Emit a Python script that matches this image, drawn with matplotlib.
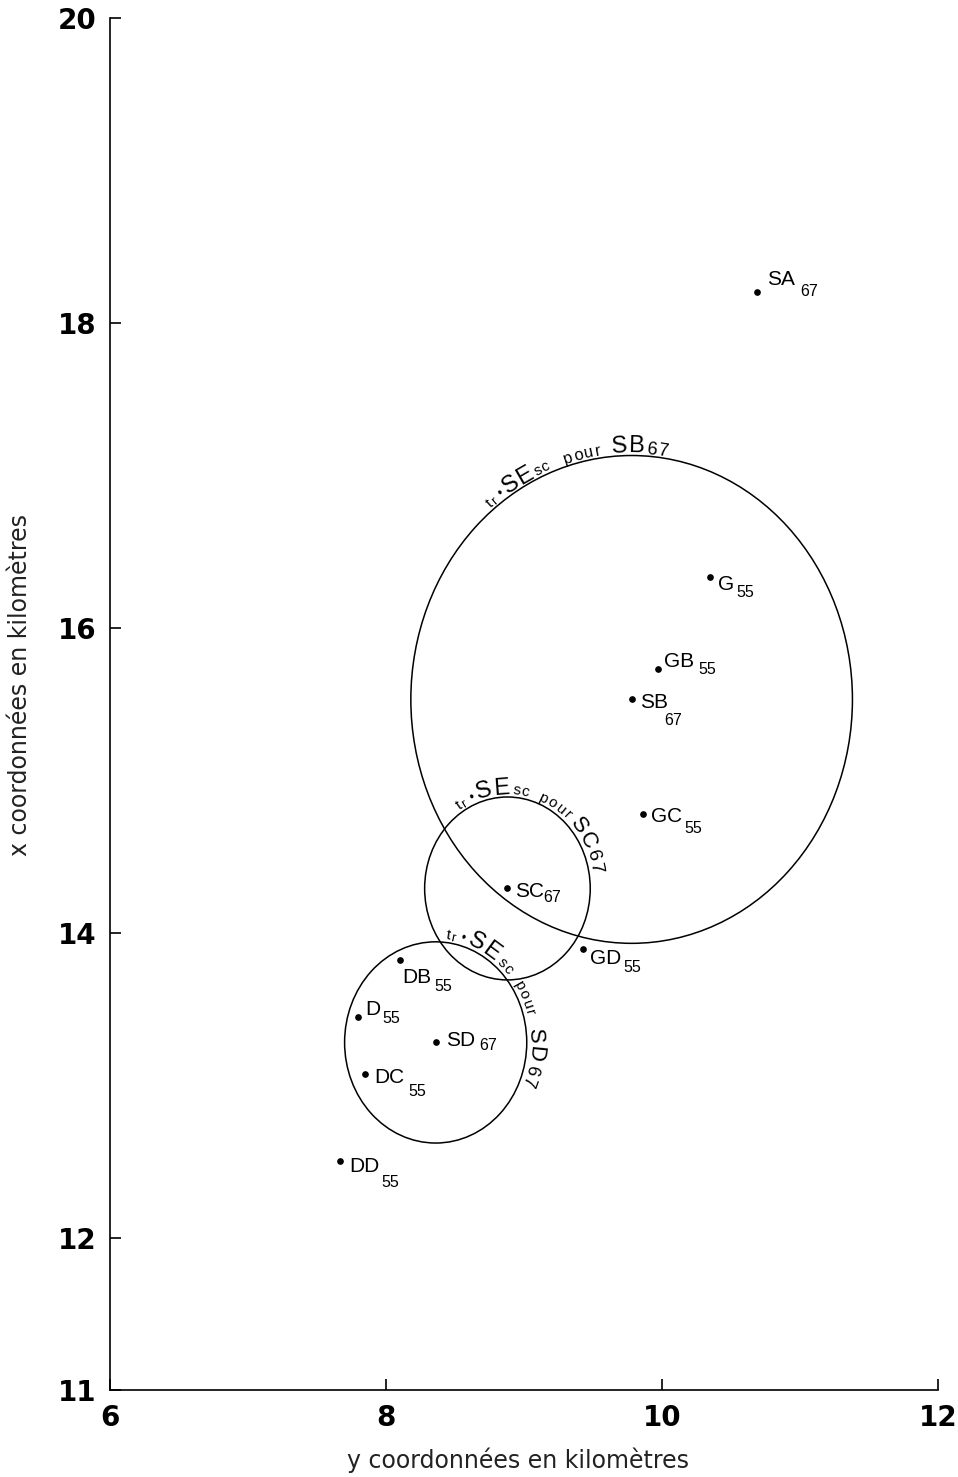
import numpy as np
import matplotlib
matplotlib.use("Agg")
import matplotlib.pyplot as plt
from matplotlib.patches import Circle

# Station coordinates (y, x) in kilometres
names = ["SA", "G", "GB", "SB", "GC", "SC", "GD", "DB", "D", "SD", "DC", "DD"]
subs = ["67", "55", "55", "67", "55", "67", "55", "55", "55", "67", "55", "55"]
y_km = [10.69, 10.35, 9.97, 9.78, 9.86, 8.88, 9.43, 8.10, 7.80, 8.36, 7.85, 7.67]
x_km = [18.20, 16.33, 15.73, 15.53, 14.78, 14.29, 13.89, 13.82, 13.45, 13.28, 13.07, 12.50]

# Uncertainty circles: centre station and radius (km)
circle_station = ["SB", "SC", "SD"]
circle_radius = [1.60, 0.60, 0.66]

x_ticks = [6, 8, 10, 12]
y_ticks = [11, 12, 14, 16, 18, 20]

# Label placement (pixels): main text left/baseline offset, subscript gap/baseline offset
main_off = [(10, 7), (8, -13), (6, 2), (8, -9), (8, -8), (8, -9), (7, -15),
            (2, -23), (7, 2), (10, -4), (9, -9), (9, -11)]
sub_off = [(5, -4), (2, -20), (4, -5), (-3, -26), (3, -19), (-1, -14), (2, -23),
           (3, -31), (2, -6), (4, -8), (4, -22), (2, -26)]

LABEL_FONT = "Liberation Sans"

fig = plt.figure(figsize=(9.58, 14.77), dpi=100)
ax = fig.add_axes([110 / 958, 87 / 1477, 828 / 958, 1372 / 1477])
ax.set_xlim(6, 12)
ax.set_ylim(11, 20)

for side in ("top", "right"):
    ax.spines[side].set_visible(False)
for side in ("left", "bottom"):
    ax.spines[side].set_linewidth(1.2)

ax.set_xticks(x_ticks)
ax.set_yticks(y_ticks)
ax.set_xticklabels([str(v) for v in x_ticks])
ax.set_yticklabels([str(v) for v in y_ticks])
ax.tick_params(direction="in", length=8, width=1.2, pad=10)
for lab in ax.get_xticklabels() + ax.get_yticklabels():
    lab.set_fontfamily("DejaVu Sans")
    lab.set_fontweight("bold")
    lab.set_fontsize(20)

# Points and their labels
ax.plot(y_km, x_km, "o", color="black", markersize=3.8, clip_on=False)
for i, (nm, sb) in enumerate(zip(names, subs)):
    mt = ax.annotate(nm, xy=(y_km[i], x_km[i]), xytext=main_off[i],
                     textcoords="offset pixels", ha="left", va="baseline",
                     fontsize=15, family=LABEL_FONT)
    ax.annotate(sb, xy=(1, x_km[i]), xycoords=(mt, "data"),
                xytext=sub_off[i], textcoords="offset pixels",
                ha="left", va="baseline", fontsize=11.5, family=LABEL_FONT)

# Circles
centres = {}
for st, r in zip(circle_station, circle_radius):
    k = names.index(st)
    c = (y_km[k], x_km[k])
    centres[st] = (c, r)
    ax.add_patch(Circle(c, r, fill=False, edgecolor="black", linewidth=1.1))

fig.canvas.draw()
renderer = fig.canvas.get_renderer()


def char_width(ch, size):
    t = ax.text(0, 0, ch, fontsize=size, family=LABEL_FONT)
    w = t.get_window_extent(renderer).width
    t.remove()
    return w


def arc_text(centre, radius, pieces, t_start, gap):
    """Write text clockwise along the outside of a circle given in data units.

    pieces: (text, fontsize, radial lift px, letter tracking px, space after px)
    """
    cx, cy = ax.transData.transform(centre)
    rx = ax.transData.transform((centre[0] + radius, centre[1]))[0] - cx
    ry = ax.transData.transform((centre[0], centre[1] + radius))[1] - cy
    inv = ax.transData.inverted()
    t = np.radians(t_start)
    for text, size, lift, track, after in pieces:
        off = gap + lift
        ex, ey = rx + off, ry + off
        for ch in text:
            w = char_width(ch, size)
            speed = np.hypot(ex * np.sin(t), ey * np.cos(t))
            t -= (w / 2) / speed
            px = cx + ex * np.cos(t)
            py = cy + ey * np.sin(t)
            rot = np.degrees(np.arctan2(-ey * np.cos(t), ex * np.sin(t)))
            dx, dy = inv.transform((px, py))
            ax.text(dx, dy, ch, fontsize=size, family=LABEL_FONT,
                    rotation=rot, rotation_mode="anchor",
                    ha="center", va="baseline", clip_on=False)
            t -= (w / 2 + track) / speed
        speed = np.hypot(ex * np.sin(t), ey * np.cos(t))
        t -= after / speed


c, r = centres["SB"]
arc_text(c, r, [("t", 11, 0, 1, 0), ("r", 9, -1, 0, 5), ("•", 9, 1, 0, 3),
                ("SE", 17, 0, 0.5, 1), ("sc", 11, 0, 1, 14), ("pour", 12, 0, 1.5, 9),
                ("SB", 17, 0, 0.5, 2), ("67", 13, -1, 1, 0)], 129, 3)

c, r = centres["SC"]
arc_text(c, r, [("t", 11, 0, 1, 0), ("r", 9, -1, 0, 5), ("•", 9, 1, 0, 3),
                ("SE", 17, 0, 0.5, 2), ("sc", 11, 0, 1, 9), ("pour", 11, 0, 1.5, 3),
                ("SC", 16, 0, 1, 1), ("67", 14, 0, 1, 0)], 124, 3)

c, r = centres["SD"]
arc_text(c, r, [("t", 11, 0, 1, 0), ("r", 9, -1, 0, 5), ("•", 9, 1, 0, 3),
                ("SE", 17, 0, 0.5, 2), ("sc", 11, 0, 1, 10), ("pour", 11, 0, 1.5, 12),
                ("SD", 16, 0, 1, 2), ("67", 13, 0, 1, 0)], 84, 3)

# Axis titles
fig.text(518 / 958, 1 - 1460 / 1477, "y coordonnées en kilomètres",
         ha="center", va="center", fontsize=17, family="Liberation Sans Narrow",
         color="#222222")
fig.text(20 / 958, 1 - 685 / 1477, "x coordonnées en kilomètres",
         ha="center", va="center", rotation=90, fontsize=17,
         family="Liberation Sans Narrow", color="#222222")

fig.savefig("out.png", dpi=100)
